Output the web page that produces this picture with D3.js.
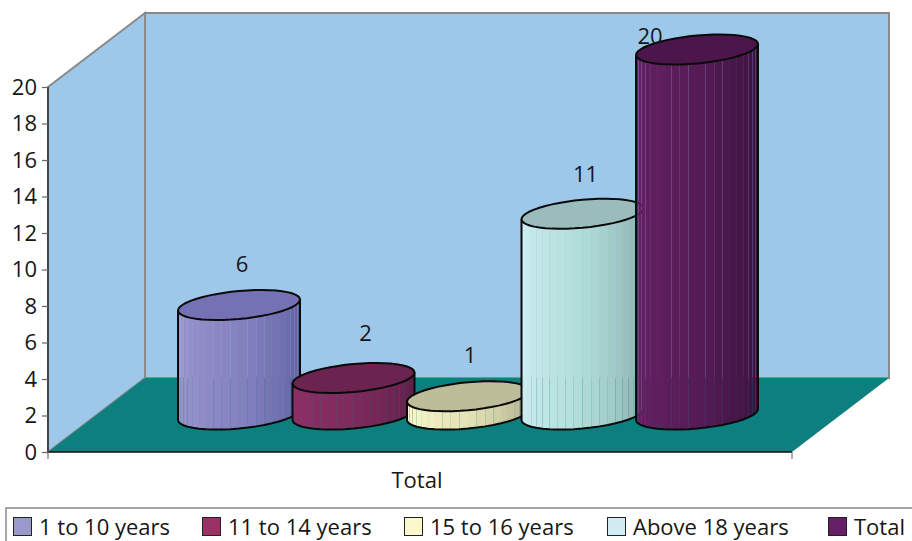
<!DOCTYPE html>
<html>
<head>
<meta charset="utf-8">
<style>
html, body { margin: 0; padding: 0; background: #fff; overflow: hidden; }
text { font-family: "Open Sans", sans-serif; fill: #161616; }
</style>
<script src="https://cdn.jsdelivr.net/npm/d3@7/dist/d3.min.js"></script>
</head>
<body>
<script>
// Series shown as cylinders, left to right
const seriesNames = ["1 to 10 years", "11 to 14 years", "15 to 16 years", "Above 18 years", "Total"];
const seriesValues = [6, 2, 1, 11, 20];
const yTicks = [0, 2, 4, 6, 8, 10, 12, 14, 16, 18, 20];
const categoryLabel = "Total";

// Fill colours per series: legend swatch, lit edge, middle, shaded edge, cap
const swatchColors = ["#9999cc", "#993366", "#fbf8cc", "#d2ecf4", "#661f66"];
const litColors = ["#9c99cf", "#922f68", "#fdfdcc", "#d2eff6", "#6a2068"];
const midColors = ["#8582c0", "#7f2a5c", "#e4e2b6", "#b0ddd8", "#561c56"];
const darkColors = ["#5c5da0", "#5a1e46", "#a8a888", "#84a6a6", "#36103a"];
const capColors = ["#7472b4", "#6b2350", "#bdbd99", "#9bbcbc", "#4a164c"];

// Hand placement of the value labels relative to each cylinder's cap
const labelShift = [[3, -41], [12, -45], [2, -41], [3, -40], [-47, -14]];

const width = 912, height = 541;
const depthX = 97, depthY = -74;       // oblique offset from front to back wall
const frontLeft = 48, frontRight = 792;
const radiusX = 61, radiusY = 14, tilt = 5.5;
const baseLift = 37.5;                 // cylinder base sits this far above the front edge
const facetCount = 22;
const fontSize = 22;

const svg = d3.select("body").append("svg")
  .attr("width", width).attr("height", height)
  .style("display", "block");

const y = d3.scaleLinear().domain([0, 20]).range([452, 87]);
const x = d3.scalePoint().domain(seriesNames).range([239, 697]);
const path = d3.line();

// Back wall, side wall and floor of the box
const y0 = y(0), yTop = y(20);
svg.append("path")
  .attr("d", path([[frontLeft, y0], [frontLeft, yTop], [frontLeft + depthX, yTop + depthY],
                   [frontLeft + depthX, y0 + depthY]]) + "Z")
  .attr("fill", "#9ec8ea").attr("stroke", "#8a8a8a").attr("stroke-width", 2);
svg.append("path")
  .attr("d", path([[frontLeft + depthX, yTop + depthY], [frontRight + depthX, yTop + depthY],
                   [frontRight + depthX, y0 + depthY], [frontLeft + depthX, y0 + depthY]]) + "Z")
  .attr("fill", "#9ec8ea").attr("stroke", "#8a8a8a").attr("stroke-width", 2);
svg.append("path")
  .attr("d", path([[frontLeft, y0], [frontLeft + depthX, y0 + depthY],
                   [frontRight + depthX, y0 + depthY], [frontRight, y0]]) + "Z")
  .attr("fill", "#0d7f7f");
svg.append("line")
  .attr("x1", frontLeft).attr("x2", frontRight).attr("y1", y0).attr("y2", y0)
  .attr("stroke", "#0a0a0a").attr("stroke-width", 1.5);

// Value axis
const yAxis = svg.append("g")
  .attr("transform", `translate(${frontLeft},0)`)
  .call(d3.axisLeft(y).tickValues(yTicks).tickSize(6).tickPadding(5));
yAxis.select(".domain").attr("stroke", "#444").attr("stroke-width", 2).attr("d", `M0,${yTop}V${y0}`);
yAxis.selectAll(".tick line").attr("stroke", "#666").attr("stroke-width", 1.2);
yAxis.selectAll("text").attr("font-size", fontSize).style("font-family", '"Open Sans", sans-serif').attr("fill", "#161616");

// Category axis ticks and label
[frontLeft, frontRight].forEach(px => {
  svg.append("line").attr("x1", px).attr("x2", px).attr("y1", y0).attr("y2", y0 + 7)
    .attr("stroke", "#777").attr("stroke-width", 1.2);
});
svg.append("text").attr("x", 417).attr("y", 488).attr("text-anchor", "middle")
  .attr("font-size", fontSize).text(categoryLabel);

// Point on a tilted elliptical rim at angle t
function rim(cx, cy, t) {
  return [cx + radiusX * Math.cos(t), cy - tilt * Math.cos(t) + radiusY * Math.sin(t)];
}

const angles = d3.range(facetCount + 1).map(i => Math.PI - (i / facetCount) * Math.PI);
const loop = d3.range(49).map(i => (i / 48) * 2 * Math.PI);

seriesNames.forEach((name, i) => {
  const cx = x(name);
  const base = y0 - baseLift;
  const top = base - (y(0) - y(seriesValues[i]));
  // Shading across the curved face, from lit left edge to dark right edge
  const shade = d3.scaleLinear().domain([0, 0.5, 1])
    .range([litColors[i], midColors[i], darkColors[i]]);
  const g = svg.append("g");

  // Curved face built from narrow facets; the seams let the backdrop show faintly
  d3.range(facetCount).forEach(k => {
    const a = angles[k], b = angles[k + 1];
    g.append("path")
      .attr("d", path([rim(cx, top, a), rim(cx, top, b), rim(cx, base, b), rim(cx, base, a)]) + "Z")
      .attr("fill", shade(k / (facetCount - 1)));
  });

  // Outline of the face: both sides and the front of the base
  g.append("path")
    .attr("d", path([rim(cx, top, Math.PI), ...angles.map(t => rim(cx, base, t)), rim(cx, top, 0)]))
    .attr("fill", "none").attr("stroke", "#0a0a0a").attr("stroke-width", 2)
    .attr("stroke-linejoin", "round");

  // Cap
  g.append("path")
    .attr("d", path(loop.map(t => rim(cx, top, t))) + "Z")
    .attr("fill", capColors[i]).attr("stroke", "#0a0a0a").attr("stroke-width", 2);
});

// Value labels
seriesNames.forEach((name, i) => {
  const capY = y0 - baseLift - (y(0) - y(seriesValues[i]));
  svg.append("text")
    .attr("x", x(name) + labelShift[i][0])
    .attr("y", capY + labelShift[i][1] + 8)
    .attr("text-anchor", "middle").attr("font-size", fontSize)
    .text(seriesValues[i]);
});

// Legend
svg.append("rect").attr("x", 6).attr("y", 508).attr("width", 920).attr("height", 60)
  .attr("fill", "#fff").attr("stroke", "#8a8a8a").attr("stroke-width", 1.5);
const legendX = [13, 202, 404, 607, 828];
seriesNames.forEach((name, i) => {
  svg.append("rect").attr("x", legendX[i] + 0.5).attr("y", 517.5).attr("width", 18).attr("height", 18)
    .attr("fill", swatchColors[i]).attr("stroke", "#222").attr("stroke-width", 1);
  svg.append("text").attr("x", legendX[i] + 26).attr("y", 535).attr("font-size", fontSize).text(name);
});
</script>
</body>
</html>
